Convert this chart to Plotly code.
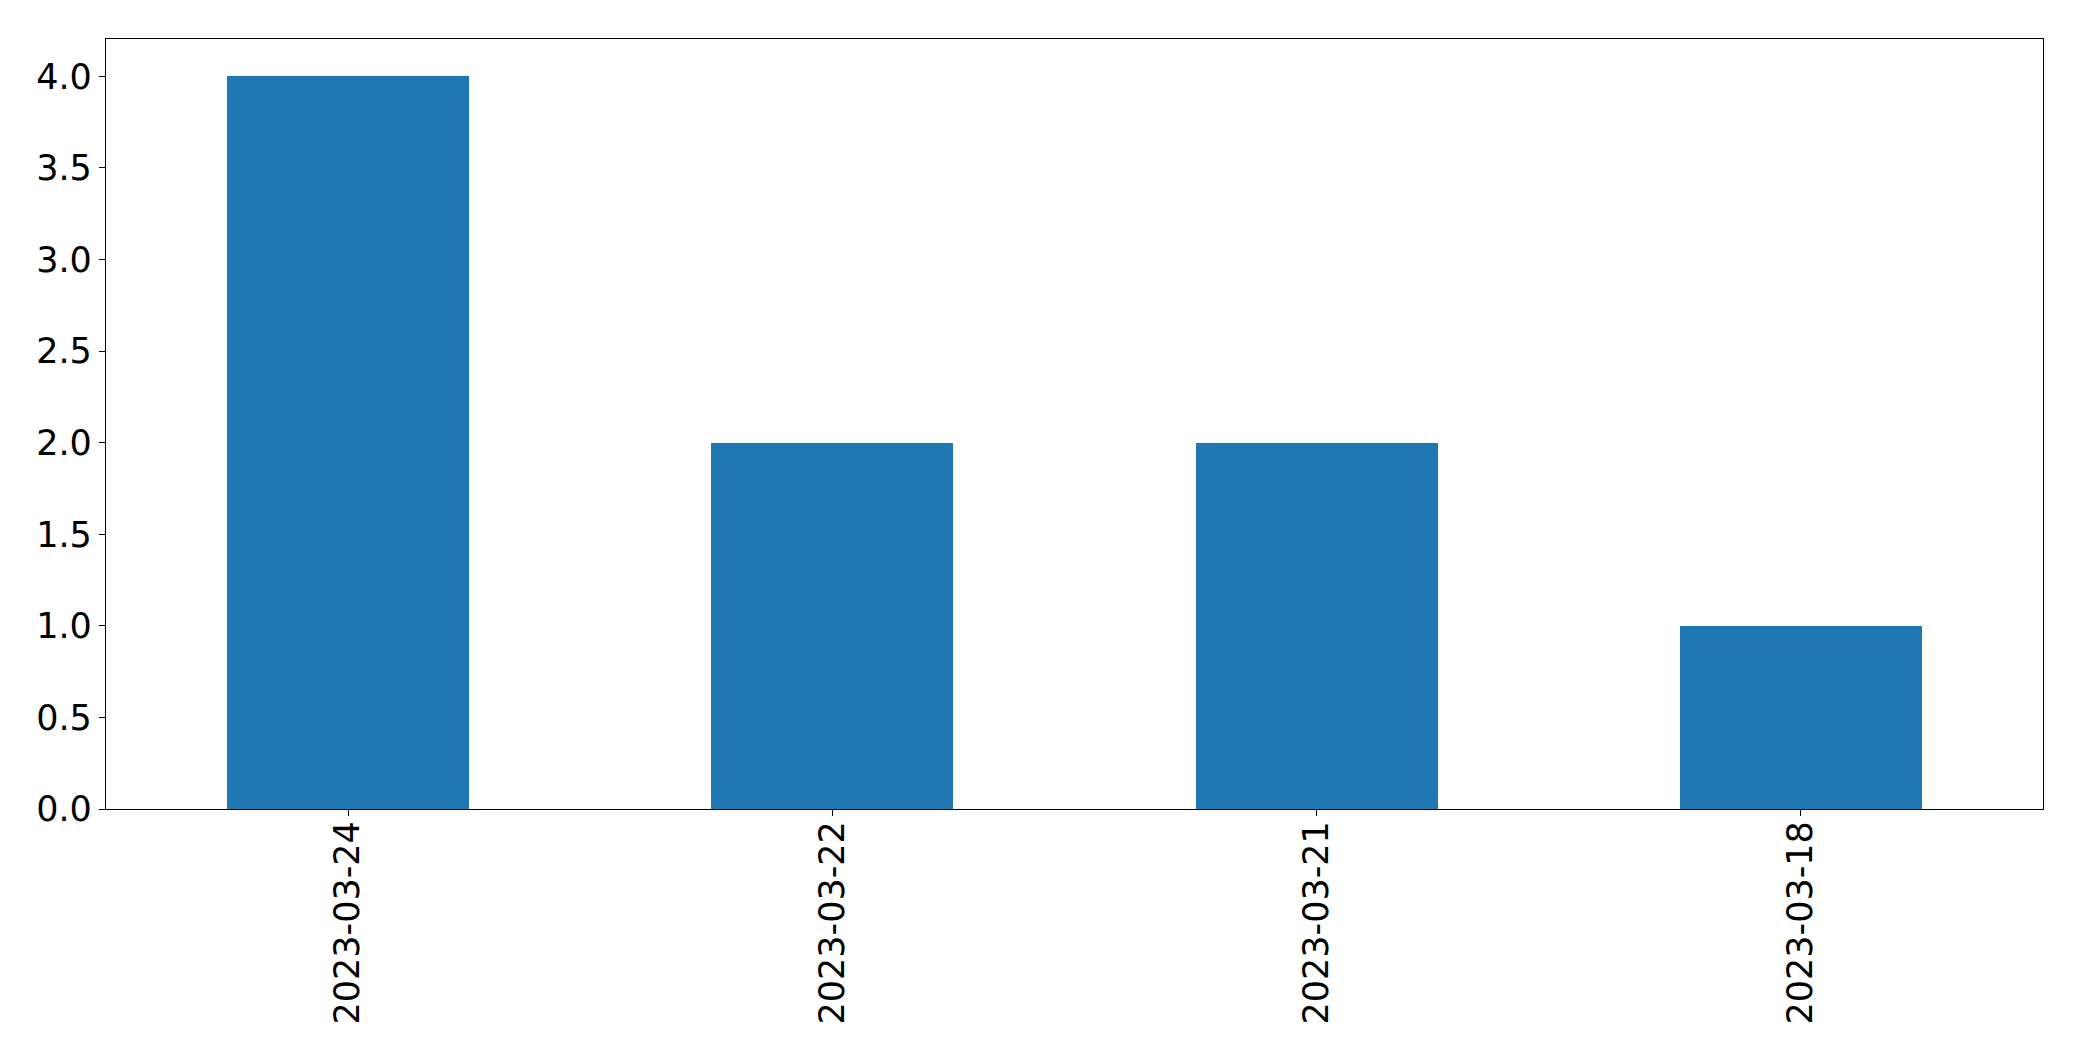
import plotly.graph_objects as go

categories = ["2023-03-24", "2023-03-22", "2023-03-21", "2023-03-18"]
values = [4, 2, 2, 1]
y_ticks = [0.0, 0.5, 1.0, 1.5, 2.0, 2.5, 3.0, 3.5, 4.0]
y_tick_labels = ["0.0", "0.5", "1.0", "1.5", "2.0", "2.5", "3.0", "3.5", "4.0"]

fig = go.Figure(go.Bar(x=categories, y=values, width=0.5, marker=dict(color="#1f77b4", line=dict(width=0))))

axis_common = dict(showline=True, mirror=True, linecolor="black", linewidth=1.3,
                   ticks="outside", ticklen=6, tickwidth=1.3, tickcolor="black",
                   showgrid=False, zeroline=False)

fig.update_layout(
    width=2066, height=1045,
    margin=dict(l=98, r=31, t=31, b=244),
    paper_bgcolor="white", plot_bgcolor="white",
    font=dict(family="DejaVu Sans", size=35, color="black"),
    showlegend=False,
    bargap=0,
)
fig.update_xaxes(type="category", range=[-0.5, 3.5], tickangle=-90, ticklabelstandoff=-9, **axis_common)
fig.update_yaxes(range=[0, 4.204], tickvals=y_ticks, ticktext=y_tick_labels, **axis_common)

fig.write_html("out.html")
